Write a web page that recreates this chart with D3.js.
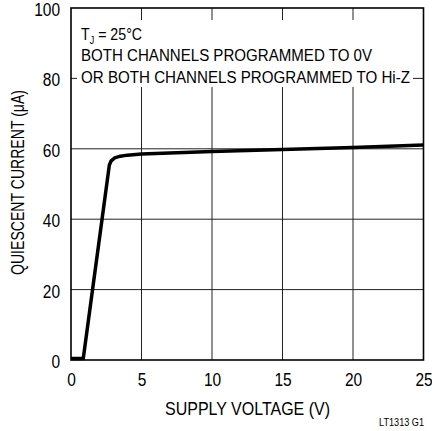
<!DOCTYPE html>
<html><head><meta charset="utf-8">
<script src="https://cdn.jsdelivr.net/npm/d3@7"></script>
<style>
body{margin:0;background:#fff;}
text{font-family:"Liberation Sans Narrow","Arial Narrow","Liberation Sans",sans-serif;fill:#000;}
</style></head>
<body><svg id="c" width="432" height="431"></svg>
<script>
const voltage = [0, 0.87, 2.72, 2.85, 3.1, 3.5, 4.0, 5, 10, 15, 20, 25];
const current = [0.4, 0.4, 55.4, 56.6, 57.4, 57.9, 58.2, 58.5, 59.2, 59.8, 60.4, 61.1];
const xTicks = [0, 5, 10, 15, 20, 25];
const yTicks = [0, 20, 40, 60, 80, 100];
const noteLines = ["BOTH CHANNELS PROGRAMMED TO 0V", "OR BOTH CHANNELS PROGRAMMED TO Hi-Z"];
const xTitle = "SUPPLY VOLTAGE (V)";
const yTitle = "QUIESCENT CURRENT (\u03BCA)";
const figId = "LT1313 G1";

const svg = d3.select("#c");
const L = 71, R = 423.5, T = 8, B = 360;
const x = d3.scaleLinear().domain([0, 25]).range([L, R]);
const y = d3.scaleLinear().domain([0, 100]).range([B, T]);

function squeeze(sel, f) {
  sel.each(function () {
    const n = this.getComputedTextLength();
    d3.select(this).attr("textLength", n * f).attr("lengthAdjust", "spacingAndGlyphs");
  });
}

// grid
const g = svg.append("g");
g.selectAll(".vx").data(xTicks.slice(1, -1)).enter().append("line")
  .attr("x1", d => x(d)).attr("x2", d => x(d)).attr("y1", T).attr("y2", B)
  .attr("stroke", "#222").attr("stroke-width", 1);
g.selectAll(".hy").data(yTicks.slice(1, -1)).enter().append("line")
  .attr("x1", L).attr("x2", R).attr("y1", d => y(d)).attr("y2", d => y(d))
  .attr("stroke", "#222").attr("stroke-width", 1);

// note background
svg.append("rect").attr("x", 77).attr("y", 20).attr("width", 336).attr("height", 67).attr("fill", "#fff");

// frame
svg.append("rect").attr("x", L).attr("y", T).attr("width", R - L).attr("height", B - T)
  .attr("fill", "none").attr("stroke", "#000").attr("stroke-width", 1.6);

// curve
const line = d3.line().x((d, i) => x(voltage[i])).y((d, i) => y(current[i])).curve(d3.curveLinear);
svg.append("path").datum(current).attr("d", line).attr("fill", "none")
  .attr("stroke", "#000").attr("stroke-width", 3.5).attr("stroke-linejoin", "round");

// axes labels
const xAxis = d3.axisBottom(x).tickValues(xTicks).tickSize(0).tickPadding(0);
const xa = svg.append("g").attr("transform", `translate(0,${B})`).call(xAxis);
xa.select(".domain").remove();
xa.selectAll("text").attr("font-size", 18).style("font-family", null)
  .attr("y", 26).attr("dy", null);
squeeze(xa.selectAll("text"), 0.86);

const yAxis = d3.axisLeft(y).tickValues(yTicks).tickSize(0).tickPadding(11);
const ya = svg.append("g").attr("transform", `translate(${L},0)`).call(yAxis);
ya.select(".domain").remove();
ya.selectAll("text").attr("font-size", 18).style("font-family", null)
  .attr("dy", 7.5);
squeeze(ya.selectAll("text"), 0.86);

// note text
const tj = svg.append("text").attr("x", 81).attr("y", 40).attr("font-size", 16.5);
tj.append("tspan").text("T");
tj.append("tspan").attr("font-size", 10.5).attr("dy", 4).text("J");
tj.append("tspan").attr("dy", -4).text(" = 25\u00B0C");
squeeze(tj, 0.86);
svg.append("text").attr("x", 81).attr("y", 61).attr("font-size", 16)
  .attr("textLength", 291).attr("lengthAdjust", "spacingAndGlyphs").text(noteLines[0]);
svg.append("text").attr("x", 81).attr("y", 83).attr("font-size", 16)
  .attr("textLength", 329).attr("lengthAdjust", "spacingAndGlyphs").text(noteLines[1]);

// titles
svg.append("text").attr("x", 165).attr("y", 415)
  .attr("font-size", 18).attr("textLength", 165).attr("lengthAdjust", "spacingAndGlyphs").text(xTitle);
svg.append("text").attr("transform", `translate(23.5,275) rotate(-90)`)
  .attr("font-size", 18).attr("textLength", 185).attr("lengthAdjust", "spacingAndGlyphs").text(yTitle);
svg.append("text").attr("x", 379).attr("y", 426)
  .attr("font-size", 11).attr("textLength", 45).attr("lengthAdjust", "spacingAndGlyphs").text(figId);
</script></body></html>
